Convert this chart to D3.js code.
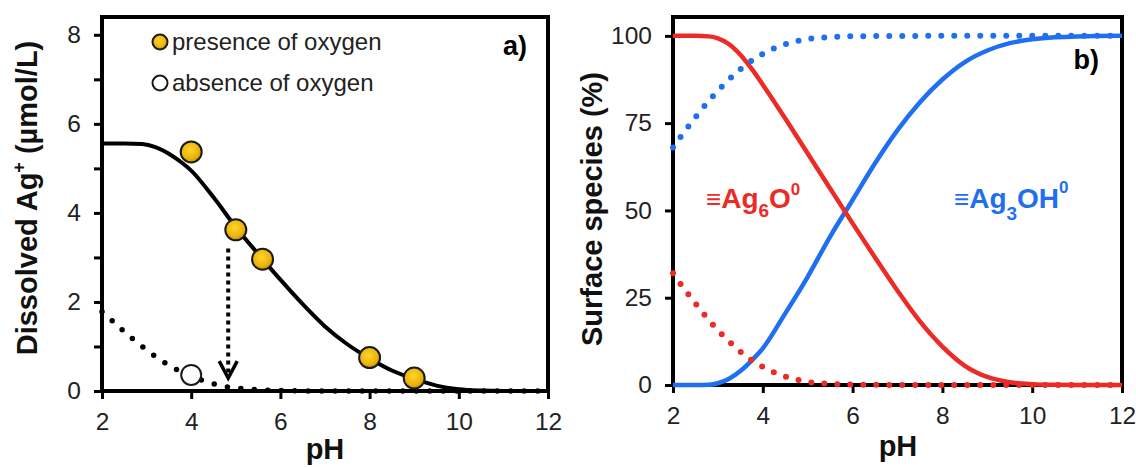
<!DOCTYPE html>
<html lang="en">
<head>
<meta charset="UTF-8">
<title>Dissolved Ag+ and surface species vs pH</title>
<style>
  body { margin: 0; background: #fff; }
  text { font-family: "Liberation Sans", Arial, sans-serif; }
</style>
</head>
<body>
<svg width="1136" height="467"></svg>
<script src="https://d3js.org/d3.v7.min.js"></script>
<script>
// shared pH axis
const phTicks = [2, 4, 6, 8, 10, 12];
const agTicks = [0, 2, 4, 6, 8];
const agMinorTicks = [1, 3, 5, 7];
const pctTicks = [0, 25, 50, 75, 100];

// panel a) measured points
const presencePH = [4, 5, 5.6, 8, 9];
const presenceAg = [5.37, 3.62, 2.96, 0.75, 0.29];
const absencePH = [4];
const absenceAg = [0.36];

// panel a) model, with oxygen (solid)
const withO2PH = [2, 2.5, 2.9, 3.2, 3.5, 3.8, 4, 4.5, 5, 5.5, 6, 6.5, 7, 7.5, 8, 8.5, 9, 9.5, 10, 10.5, 11, 12];
const withO2Ag = [5.56, 5.56, 5.55, 5.48, 5.33, 5.12, 4.95, 4.35, 3.68, 3.08, 2.5, 1.95, 1.45, 1.05, 0.73, 0.46, 0.27, 0.12, 0.04, 0.01, 0, 0];

// panel a) model, without oxygen (dotted)
const noO2PH = [2, 2.25, 2.5, 2.75, 3, 3.25, 3.5, 3.75, 4, 4.25, 4.5, 4.75, 5, 5.5, 6, 7, 8, 12];
const noO2Ag = [1.78, 1.56, 1.33, 1.12, 0.92, 0.74, 0.58, 0.44, 0.33, 0.24, 0.16, 0.1, 0.07, 0.03, 0.01, 0, 0, 0];

// arrow from fitted point down to the no-oxygen curve
const arrowPH = 4.83;
const arrowAg = [3.2, 0.29];

// panel b) surface species with oxygen (solid)
const speciesPH = [2, 2.5, 2.8, 3, 3.25, 3.5, 3.75, 4, 4.5, 5, 5.5, 6, 6.5, 7, 7.5, 8, 8.5, 9, 9.5, 10, 10.5, 11, 12];
const ag6oPct = [100, 100, 99.85, 99.3, 97.6, 94.6, 90.6, 86, 76.3, 66.3, 56.3, 46.3, 36.5, 27, 18.2, 11, 5.5, 2.3, 0.8, 0.25, 0.05, 0, 0];
const ag3ohPct = [0, 0, 0.05, 0.5, 1.8, 4, 7, 10.5, 20.5, 31, 42.5, 53, 63.5, 73, 81, 87.5, 92.5, 95.8, 97.9, 99, 99.6, 99.85, 100];

// panel b) surface species without oxygen (dotted)
const speciesNoO2PH = [2, 2.2, 2.4, 2.6, 2.8, 3, 3.2, 3.4, 3.6, 3.8, 4, 4.2, 4.4, 4.6, 4.8, 5, 5.5, 6, 7, 8, 12];
const ag6oNoO2Pct = [32, 28.4, 25, 21.7, 18.6, 15.7, 13.1, 10.7, 8.5, 6.7, 5.2, 3.9, 2.9, 2.0, 1.4, 0.9, 0.35, 0.12, 0.02, 0, 0];
const ag3ohNoO2Pct = [68, 71.6, 75, 78.3, 81.4, 84.3, 86.9, 89.3, 91.5, 93.3, 94.8, 96.1, 97.1, 98, 98.6, 99.1, 99.65, 99.88, 99.98, 100, 100];

const RED = "#ec2a26";
const BLUE = "#1f6ff0";

const svg = d3.select("svg");

const defs = svg.append("defs");
const grad = defs.append("radialGradient")
    .attr("id", "gold")
    .attr("cx", "45%").attr("cy", "40%").attr("r", "60%");
grad.append("stop").attr("offset", "0%").attr("stop-color", "#ffd52a");
grad.append("stop").attr("offset", "70%").attr("stop-color", "#eab40c");
grad.append("stop").attr("offset", "100%").attr("stop-color", "#c98f00");

function drawFrame(g, x, y, yTicks, yMinor) {
  const [x0, x1] = x.range();
  const [y0, y1] = y.range();

  g.append("g")
    .attr("transform", `translate(${x0},0)`)
    .call(d3.axisLeft(y).tickValues(yTicks).tickSize(8).tickSizeOuter(0).tickPadding(13))
    .call(a => a.select(".domain").remove());

  if (yMinor) {
    g.append("g")
      .attr("transform", `translate(${x0},0)`)
      .call(d3.axisLeft(y).tickValues(yMinor).tickSize(8).tickFormat(""))
      .call(a => a.select(".domain").remove());
  }

  g.append("g")
    .attr("transform", `translate(0,${y0})`)
    .call(d3.axisBottom(x).tickValues(phTicks).tickSize(8).tickSizeOuter(0).tickPadding(14))
    .call(a => a.select(".domain").remove());

  g.selectAll(".tick line").attr("stroke", "#000").attr("stroke-width", 3);
  g.selectAll(".tick text")
    .attr("font-size", 24.5)
    .attr("fill", "#222")
    .style("font-family", '"Liberation Sans", Arial, sans-serif');

  g.append("rect")
    .attr("x", x0).attr("y", y1)
    .attr("width", x1 - x0).attr("height", y0 - y1)
    .attr("fill", "none")
    .attr("stroke", "#000")
    .attr("stroke-width", 4);
}

// ---------- panel a) ----------
const xa = d3.scaleLinear().domain([2, 12]).range([102, 548]);
const ya = d3.scaleLinear().domain([0, 8.4]).range([391, 17]);
const ga = svg.append("g");
drawFrame(ga, xa, ya, agTicks, agMinorTicks);

const lineA = (px, vals) => d3.line()
  .x((d, i) => xa(px[i]))
  .y(d => ya(d))
  .curve(d3.curveMonotoneX)(vals);

ga.append("path")
  .attr("d", lineA(noO2PH, noO2Ag))
  .attr("fill", "none")
  .attr("stroke", "#000")
  .attr("stroke-width", 5.5)
  .attr("stroke-linecap", "round")
  .attr("stroke-dasharray", "0 13.5");

ga.append("path")
  .attr("d", lineA(withO2PH, withO2Ag))
  .attr("fill", "none")
  .attr("stroke", "#000")
  .attr("stroke-width", 4);

// dotted arrow
const ax = xa(arrowPH);
ga.append("line")
  .attr("x1", ax).attr("x2", ax)
  .attr("y1", ya(arrowAg[0])).attr("y2", ya(arrowAg[1]) - 4)
  .attr("stroke", "#000")
  .attr("stroke-width", 4)
  .attr("stroke-dasharray", "4 4");
ga.append("path")
  .attr("d", `M${ax - 9},${ya(arrowAg[1]) - 17}L${ax},${ya(arrowAg[1])}L${ax + 9},${ya(arrowAg[1]) - 17}`)
  .attr("fill", "none")
  .attr("stroke", "#000")
  .attr("stroke-width", 3.5);

ga.selectAll("circle.pres")
  .data(presenceAg)
  .join("circle")
  .attr("class", "pres")
  .attr("cx", (d, i) => xa(presencePH[i]))
  .attr("cy", d => ya(d))
  .attr("r", 10.5)
  .attr("fill", "url(#gold)")
  .attr("stroke", "#1a1a1a")
  .attr("stroke-width", 2);

ga.selectAll("circle.abs")
  .data(absenceAg)
  .join("circle")
  .attr("class", "abs")
  .attr("cx", (d, i) => xa(absencePH[i]))
  .attr("cy", d => ya(d))
  .attr("r", 10)
  .attr("fill", "#fff")
  .attr("stroke", "#1a1a1a")
  .attr("stroke-width", 2);

// legend
ga.append("circle").attr("cx", 160).attr("cy", 42).attr("r", 7.5)
  .attr("fill", "url(#gold)").attr("stroke", "#1a1a1a").attr("stroke-width", 2);
ga.append("text").attr("x", 172).attr("y", 50).attr("font-size", 24).attr("fill", "#222")
  .text("presence of oxygen");
ga.append("circle").attr("cx", 160).attr("cy", 83).attr("r", 7.5)
  .attr("fill", "#fff").attr("stroke", "#1a1a1a").attr("stroke-width", 2);
ga.append("text").attr("x", 172).attr("y", 91).attr("font-size", 24).attr("fill", "#222")
  .text("absence of oxygen");

ga.append("text").attr("x", 527).attr("y", 55)
  .attr("text-anchor", "end").attr("font-size", 27).attr("font-weight", "bold")
  .text("a)");

const ytA = ga.append("text")
  .attr("transform", "translate(37,198) rotate(-90)")
  .attr("text-anchor", "middle")
  .attr("font-size", 29)
  .attr("font-weight", "bold")
  .attr("fill", "#111");
ytA.append("tspan").text("Dissolved Ag");
ytA.append("tspan").attr("font-size", 18).attr("dy", -12).text("+");
ytA.append("tspan").attr("dy", 12).text(" (µmol/L)");

ga.append("text").attr("x", 325).attr("y", 459)
  .attr("text-anchor", "middle").attr("font-size", 29).attr("font-weight", "bold")
  .attr("fill", "#111").text("pH");

// ---------- panel b) ----------
const xb = d3.scaleLinear().domain([2, 12]).range([673, 1122]);
const yb = d3.scaleLinear().domain([0, 105.4]).range([385, 17]);
const gb = svg.append("g");
drawFrame(gb, xb, yb, pctTicks, null);

const lineB = (px, vals) => d3.line()
  .x((d, i) => xb(px[i]))
  .y(d => yb(d))
  .curve(d3.curveMonotoneX)(vals);

[[ag3ohPct, BLUE], [ag6oPct, RED]].forEach(([vals, c]) => {
  gb.append("path")
    .attr("d", lineB(speciesPH, vals))
    .attr("fill", "none")
    .attr("stroke", c)
    .attr("stroke-width", 4.5);
});

[[ag6oNoO2Pct, RED], [ag3ohNoO2Pct, BLUE]].forEach(([vals, c]) => {
  gb.append("path")
    .attr("d", lineB(speciesNoO2PH, vals))
    .attr("fill", "none")
    .attr("stroke", c)
    .attr("stroke-width", 6)
    .attr("stroke-linecap", "round")
    .attr("stroke-dasharray", "0 13");
});

const lblR = gb.append("text").attr("x", 706).attr("y", 208)
  .attr("fill", RED).attr("font-weight", "bold").attr("font-size", 28);
lblR.append("tspan").attr("font-size", 26).attr("font-weight", "normal").text("≡");
lblR.append("tspan").text("Ag");
lblR.append("tspan").attr("font-size", 19).attr("dy", 9).text("6");
lblR.append("tspan").attr("dy", -9).text("O");
lblR.append("tspan").attr("font-size", 17).attr("dy", -13).text("0");

const lblB = gb.append("text").attr("x", 954).attr("y", 208)
  .attr("fill", BLUE).attr("font-weight", "bold").attr("font-size", 28);
lblB.append("tspan").attr("font-size", 26).attr("font-weight", "normal").text("≡");
lblB.append("tspan").text("Ag");
lblB.append("tspan").attr("font-size", 19).attr("dy", 12).text("3");
lblB.append("tspan").attr("dy", -12).text("OH");
lblB.append("tspan").attr("font-size", 17).attr("dy", -15).text("0");

gb.append("text").attr("x", 1099).attr("y", 69)
  .attr("text-anchor", "end").attr("font-size", 27).attr("font-weight", "bold")
  .text("b)");

gb.append("text")
  .attr("transform", "translate(602,209) rotate(-90)")
  .attr("text-anchor", "middle")
  .attr("font-size", 29)
  .attr("font-weight", "bold")
  .attr("fill", "#111")
  .text("Surface species (%)");

gb.append("text").attr("x", 898).attr("y", 456)
  .attr("text-anchor", "middle").attr("font-size", 29).attr("font-weight", "bold")
  .attr("fill", "#111").text("pH");
</script>
</body>
</html>
